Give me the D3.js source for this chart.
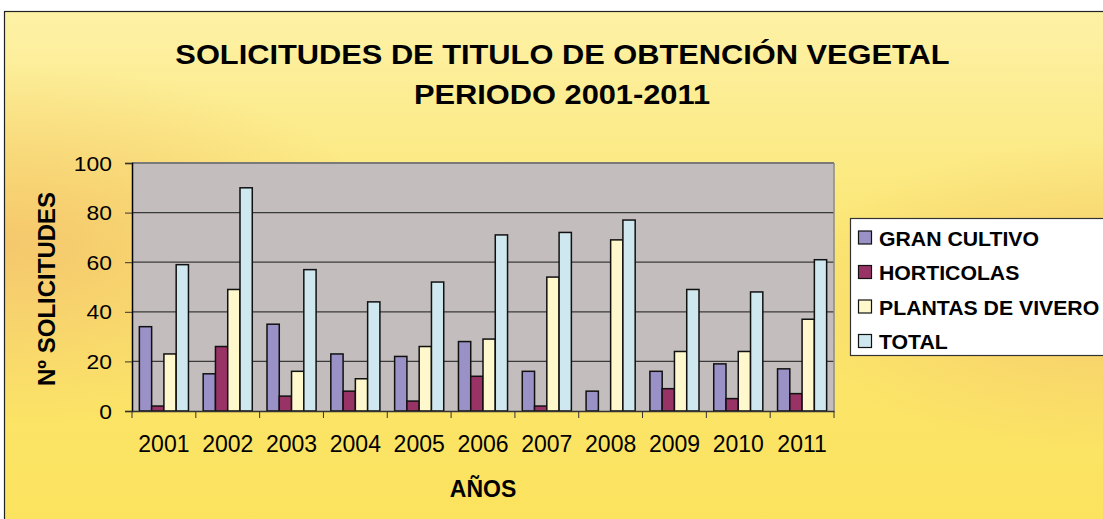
<!DOCTYPE html>
<html>
<head>
<meta charset="utf-8">
<script src="https://cdn.jsdelivr.net/npm/d3@7"></script>
<style>
  html, body { margin: 0; padding: 0; background: #ffffff; }
  svg { display: block; font-family: Arial, "Liberation Sans", sans-serif; }
</style>
</head>
<body>
<svg id="chart" width="1103" height="519"></svg>
<script>
// Solicitudes por año y tipo
const years = ["2001","2002","2003","2004","2005","2006","2007","2008","2009","2010","2011"];
const granCultivo = [34, 15, 35, 23, 22, 28, 16, 8, 16, 19, 17];
const horticolas = [2, 26, 6, 8, 4, 14, 2, 0, 9, 5, 7];
const plantasVivero = [23, 49, 16, 13, 26, 29, 54, 69, 24, 24, 37];
const total = [59, 90, 57, 44, 52, 71, 72, 77, 49, 48, 61];
const seriesNames = ["GRAN CULTIVO", "HORTICOLAS", "PLANTAS DE VIVERO", "TOTAL"];
const seriesColors = ["#9a92c6", "#993366", "#fff8cc", "#cfe7ef"];
const yTicks = [0, 20, 40, 60, 80, 100];

const seriesValues = [granCultivo, horticolas, plantasVivero, total];

const svg = d3.select("#chart");
const defs = svg.append("defs");

// Background: warm yellow with an orange glow on the sides
const bg = defs.append("linearGradient").attr("id", "bgLin").attr("x1", 0).attr("y1", 0).attr("x2", 0).attr("y2", 1);
bg.append("stop").attr("offset", "0%").attr("stop-color", "#fdf1a6");
bg.append("stop").attr("offset", "45%").attr("stop-color", "#fbe672");
bg.append("stop").attr("offset", "100%").attr("stop-color", "#fbe35e");
const glowL = defs.append("radialGradient").attr("id", "glowL").attr("cx", 0).attr("cy", 0.45).attr("r", 0.35);
glowL.append("stop").attr("offset", "0%").attr("stop-color", "#f4c46c").attr("stop-opacity", 0.9);
glowL.append("stop").attr("offset", "100%").attr("stop-color", "#f4c46c").attr("stop-opacity", 0);
const glowR = defs.append("radialGradient").attr("id", "glowR").attr("cx", 1).attr("cy", 0.55).attr("r", 0.3);
glowR.append("stop").attr("offset", "0%").attr("stop-color", "#f4c46c").attr("stop-opacity", 0.8);
glowR.append("stop").attr("offset", "100%").attr("stop-color", "#f4c46c").attr("stop-opacity", 0);

const frame = { x: 4.5, y: 11.5, w: 1110, h: 520 };
["url(#bgLin)", "url(#glowL)", "url(#glowR)"].forEach(f => {
  svg.append("rect").attr("x", frame.x).attr("y", frame.y).attr("width", frame.w).attr("height", frame.h)
    .attr("fill", f);
});
svg.append("rect").attr("x", frame.x).attr("y", frame.y).attr("width", frame.w).attr("height", frame.h)
  .attr("fill", "none").attr("stroke", "#222").attr("stroke-width", 1.2);

// Horizontally widened text, as in the chart's original lettering
function wideText(parent, txt, x, y, size, k, anchor, bold) {
  return parent.append("text")
    .attr("transform", `translate(${x},${y}) scale(${k},1)`)
    .attr("text-anchor", anchor)
    .attr("font-size", size)
    .attr("font-weight", bold ? "bold" : "normal")
    .attr("fill", "#000")
    .text(txt);
}

// Title
wideText(svg, "SOLICITUDES DE TITULO DE OBTENCIÓN VEGETAL", 562.5, 63.5, 28, 1.1, "middle", true);
wideText(svg, "PERIODO 2001-2011", 562, 104, 28, 1.1, "middle", true);

// Plot area
const plot = { left: 132, top: 163, right: 834, bottom: 411 };
const x = d3.scaleBand().domain(years).range([plot.left, plot.right]).paddingInner(0).paddingOuter(0);
const y = d3.scaleLinear().domain([0, 100]).range([plot.bottom, plot.top]);
const xSub = d3.scaleBand().domain(d3.range(seriesNames.length))
  .range([0, x.bandwidth()]).paddingInner(0).paddingOuter(0.6);

svg.append("rect").attr("x", plot.left).attr("y", plot.top)
  .attr("width", plot.right - plot.left).attr("height", plot.bottom - plot.top)
  .attr("fill", "#c3bdbd");

// Gridlines
svg.append("g").selectAll("line").data(yTicks.filter(d => d > 0)).join("line")
  .attr("x1", plot.left).attr("x2", plot.right)
  .attr("y1", d => y(d)).attr("y2", d => y(d))
  .attr("stroke", d => d === 100 ? "#7a7a7a" : "#3a3a3a").attr("stroke-width", d => d === 100 ? 2 : 1.2);
svg.append("line").attr("x1", plot.right).attr("x2", plot.right).attr("y1", plot.top).attr("y2", plot.bottom)
  .attr("stroke", "#8a8a8a").attr("stroke-width", 1.5);

// Bars
const groups = svg.append("g").selectAll("g").data(years).join("g")
  .attr("transform", d => `translate(${x(d)},0)`);
groups.selectAll("rect")
  .data((yr, i) => seriesValues.map((vals, s) => ({ s, v: vals[i] })).filter(d => d.v > 0))
  .join("rect")
  .attr("x", d => xSub(d.s))
  .attr("width", xSub.bandwidth())
  .attr("y", d => y(d.v))
  .attr("height", d => y(0) - y(d.v))
  .attr("fill", d => seriesColors[d.s])
  .attr("stroke", "#111")
  .attr("stroke-width", 1.5);

// Y axis
const yAxis = d3.axisLeft(y).tickValues(yTicks).tickSize(7).tickPadding(13).tickFormat(() => "");
const yg = svg.append("g").attr("transform", `translate(${plot.left},0)`).call(yAxis);
yg.select(".domain").attr("stroke", "#000").attr("stroke-width", 1.5);
yg.selectAll(".tick line").attr("stroke", "#333");
yTicks.forEach(t => wideText(svg, String(t), plot.left - 20, y(t) + 7.5, 21, 1.09, "end", false));

// X axis
const xAxis = d3.axisBottom(x).tickSize(0).tickPadding(25);
const xg = svg.append("g").attr("transform", `translate(0,${plot.bottom})`).call(xAxis);
xg.select(".domain").attr("stroke", "#333").attr("stroke-width", 1.5);
xg.selectAll("text").attr("font-size", 23).attr("fill", "#000")
  .attr("font-family", "Arial, 'Liberation Sans', sans-serif");
// Category separators
svg.append("g").selectAll("line").data(years.concat(["end"])).join("line")
  .attr("x1", (d, i) => plot.left + i * x.step()).attr("x2", (d, i) => plot.left + i * x.step())
  .attr("y1", plot.bottom).attr("y2", plot.bottom + 7)
  .attr("stroke", "#333").attr("stroke-width", 1);

// Axis titles
svg.append("text").attr("x", 483).attr("y", 497).attr("text-anchor", "middle")
  .attr("font-weight", "bold").attr("font-size", 23).text("AÑOS");
svg.append("text").attr("transform", "translate(55,289) rotate(-90)").attr("text-anchor", "middle")
  .attr("font-weight", "bold").attr("font-size", 24).text("Nº SOLICITUDES");

// Legend
const legend = svg.append("g");
legend.append("rect").attr("x", 850.5).attr("y", 218.5).attr("width", 270).attr("height", 137)
  .attr("fill", "#ffffff").attr("stroke", "#333").attr("stroke-width", 1.2);
const li = legend.selectAll("g").data(seriesNames).join("g")
  .attr("transform", (d, i) => `translate(858,${245.5 + i * 34.5})`);
li.append("rect").attr("x", 0.5).attr("y", -14.5).attr("width", 13).attr("height", 13)
  .attr("fill", (d, i) => seriesColors[i]).attr("stroke", "#111").attr("stroke-width", 1.2);
li.each(function (d) { wideText(d3.select(this), d, 21, 0, 19.5, 1.09, "start", true); });
</script>
</body>
</html>
